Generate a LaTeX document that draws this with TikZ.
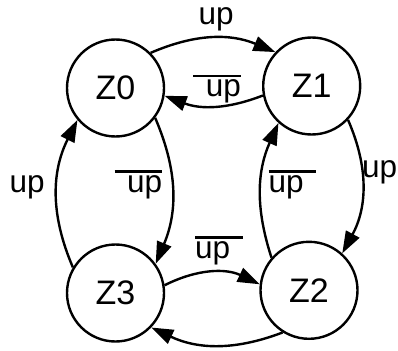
\documentclass[tikz,border=0pt]{standalone}
\usepackage{fontspec}
\setmainfont{Liberation Sans}
\usetikzlibrary{arrows.meta}
\newcommand{\ovup}[1]{\setbox0\hbox{#1}\rlap{\rule[19.2pt]{\wd0}{2.7pt}}\box0}
\tikzset{
  state/.style={circle, draw, line width=2.4pt, minimum size=97pt, inner sep=0pt,
    font=\fontsize{34}{34}\selectfont},
  edge/.style={line width=2.4pt, -{Triangle[length=22pt,width=15pt]}},
  lbl/.style={inner sep=0pt, anchor=base west, font=\fontsize{31.5}{31.5}\selectfont},
}
\begin{document}
\begin{tikzpicture}[x=1pt,y=-1pt]
\path[use as bounding box] (0,0) rectangle (398,350);
\node[state] (Z0) at (115.5,88) {Z0};
\node[state] (Z1) at (311.7,86) {Z1};
\node[state] (Z2) at (309,290.3) {Z2};
\node[state] (Z3) at (115.5,293) {Z3};
% edges
\draw[edge] (Z0.45) to[bend left=23] (Z1.137);
\draw[edge] (Z1.191) to[bend left=21] (Z0.351);
\draw[edge] (Z1.317) to[bend left=26] (Z2.48);
\draw[edge] (Z2.139) to[bend left=21] (Z1.228);
\draw[edge] (Z0.323) to[bend left=23] (Z3.36);
\draw[edge] (Z3.149) to[bend left=25] (Z0.220);
\draw[edge] (Z3.9) to[bend left=26] (Z2.173);
\draw[edge] (Z2.238) to[bend left=23] (Z3.316);
% labels
\node[lbl] (l01) at (198.5,25) {up};
\node[lbl] (l10) at (193,96.5) {\ovup{\hspace{0.4em}up}};
\node[lbl] (l12) at (362,177) {up};
\node[lbl] (l21) at (268.5,192) {\ovup{up\hspace{0.4em}}};
\node[lbl] (l03) at (114.3,192) {\ovup{\hspace{0.4em}up}};
\node[lbl] (l30) at (9.5,192) {up};
\node[lbl] (l32) at (195,258.3) {\ovup{up\hspace{0.4em}}};
\end{tikzpicture}
\end{document}
